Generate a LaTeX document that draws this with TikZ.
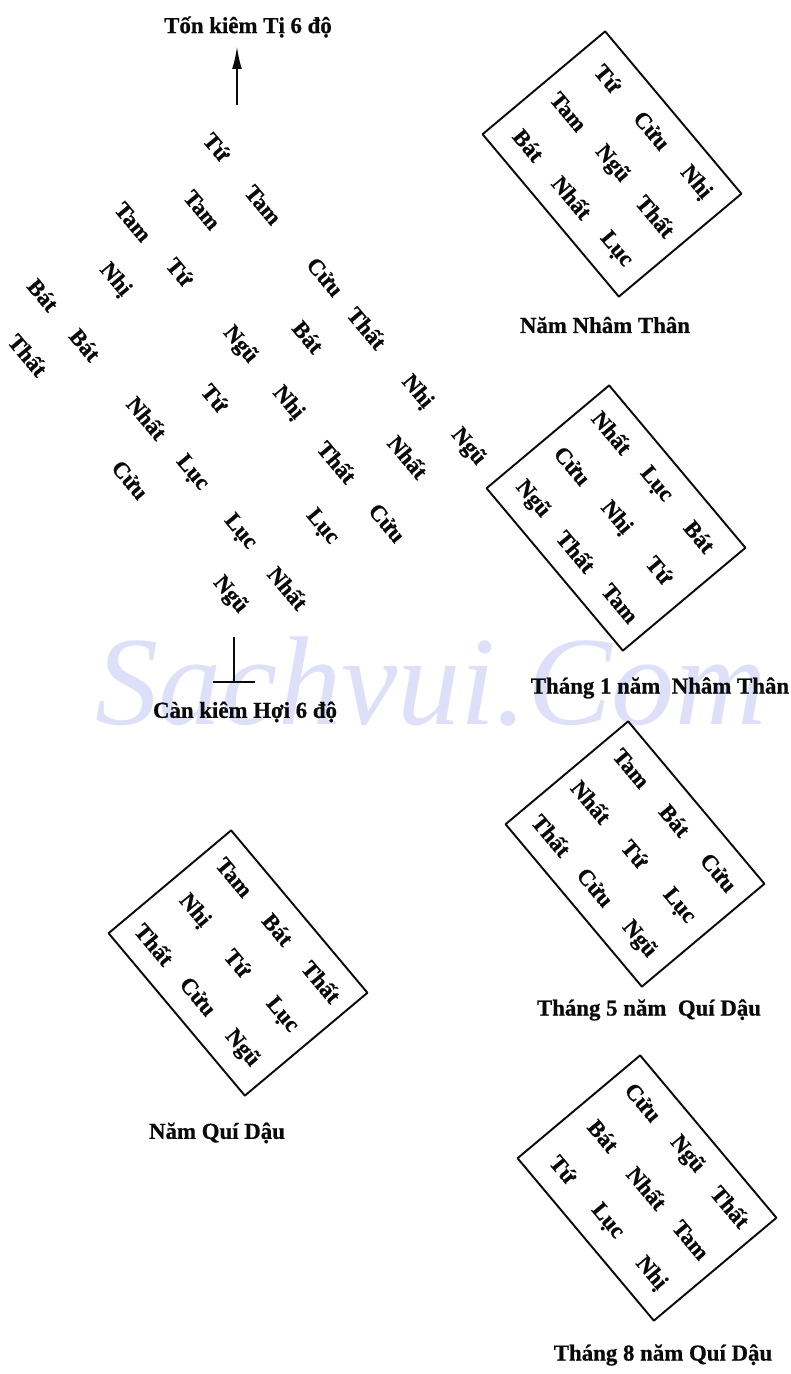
\documentclass[tikz,border=0pt]{standalone}
\usepackage{fontspec}
\setmainfont{Liberation Serif}[BoldFeatures={FakeBold=0.8}]
\usepackage{xcolor}
\usepackage{tikz}
\usetikzlibrary{arrows.meta}
\definecolor{wmark}{RGB}{222,224,250}
\definecolor{ink}{RGB}{10,10,10}

\begin{document}
\begin{tikzpicture}[
  x=0.02cm, y=-0.02cm,
  word/.style={font=\fontsize{13}{13}\selectfont\bfseries, rotate=-50,
               inner sep=0pt, text=ink},
  capt/.style={font=\fontsize{13}{15}\selectfont\bfseries, inner sep=0pt, text=ink},
  frame/.style={draw=ink, line width=1.1pt, line join=round},
  arr/.style={-{Latex[length=13pt,width=5.5pt]}, line width=1.2pt, draw=ink},
  tbar/.style={line width=0.9pt, draw=ink}
]
\useasboundingbox (0,0) rectangle (791,1374);

% watermark
\node[anchor=base west, inner sep=0pt, text=wmark,
      font=\fontsize{72}{72}\selectfont\itshape] (wm) at (95,724) {Sachvui.Com};

% big chart
\node[capt] (ton) at (248,27) {Tốn kiêm Tị 6 độ};
\coordinate (tonfoot) at (237,105);
\coordinate (tontip)  at (237,46);
\draw[arr] (tonfoot) -- (tontip);

\node[word] (s1)  at (217,147) {Tứ};
\node[word] (s2)  at (133,222) {Tam};
\node[word] (s3)  at (202,210) {Tam};
\node[word] (s4)  at (263,205) {Tam};
\node[word] (s5)  at (115,280) {Nhị};
\node[word] (s6)  at (180,272) {Tứ};
\node[word] (s7)  at (325,277) {Cửu};
\node[word] (s8)  at ( 43,295) {Bát};
\node[word] (s9)  at ( 28,355) {Thất};
\node[word] (s10) at ( 85,345) {Bát};
\node[word] (s11) at (240,345) {Ngũ};
\node[word] (s12) at (308,337) {Bát};
\node[word] (s13) at (367,328) {Thất};
\node[word] (s14) at (215,398) {Tứ};
\node[word] (s15) at (288,403) {Nhị};
\node[word] (s16) at (417,392) {Nhị};
\node[word] (s17) at (147,418) {Nhất};
\node[word] (s18) at (468,447) {Ngũ};
\node[word] (s19) at (337,462) {Thất};
\node[word] (s20) at (408,457) {Nhất};
\node[word] (s21) at (130,480) {Cửu};
\node[word] (s22) at (192,473) {Lục};
\node[word] (s23) at (387,523) {Cửu};
\node[word] (s24) at (240,532) {Lục};
\node[word] (s25) at (322,527) {Lục};
\node[word] (s26) at (288,588) {Nhất};
\node[word] (s27) at (230,595) {Ngũ};

\coordinate (cantop)   at (234,637);
\coordinate (canfoot)  at (234,682);
\coordinate (canleft)  at (213,682);
\coordinate (canright) at (255,682);
\draw[tbar] (cantop) -- (canfoot);
\draw[tbar] (canleft) -- (canright);
\node[capt] (can) at (245,712) {Càn kiêm Hợi 6 độ};

% Nam Nham Than
\begin{scope}[shift={(612,164)}, rotate=-50]
  \draw[frame] (-106,-80) rectangle (106,80);
  \node[word] (nnt1) at (-68,-52) {Tứ};   \node[word] (nnt2) at (0,-52) {Cửu};  \node[word] (nnt3) at (68,-52) {Nhị};
  \node[word] (nnt4) at (-68,0)   {Tam};  \node[word] (nnt5) at (0,0)   {Ngũ};  \node[word] (nnt6) at (68,0)   {Thất};
  \node[word] (nnt7) at (-68,52)  {Bát};  \node[word] (nnt8) at (0,52)  {Nhất}; \node[word] (nnt9) at (68,52)  {Lục};
\end{scope}
\node[capt] (nntcap) at (605,325) {Năm Nhâm Thân};

% Thang 1 nam Nham Than
\begin{scope}[shift={(616,518)}, rotate=-50]
  \draw[frame] (-106,-80) rectangle (106,80);
  \node[word] (t1a) at (-68,-52) {Nhất}; \node[word] (t1b) at (0,-52) {Lục};  \node[word] (t1c) at (68,-52) {Bát};
  \node[word] (t1d) at (-68,0)   {Cửu};  \node[word] (t1e) at (0,0)   {Nhị};  \node[word] (t1f) at (68,0)   {Tứ};
  \node[word] (t1g) at (-68,52)  {Ngũ};  \node[word] (t1h) at (0,52)  {Thất}; \node[word] (t1i) at (68,52)  {Tam};
\end{scope}
\node[capt] (t1cap) at (660,688) {Tháng 1 năm\hspace{0.5em}Nhâm Thân};

% Thang 5 nam Qui Dau
\begin{scope}[shift={(635,854)}, rotate=-50]
  \draw[frame] (-106,-80) rectangle (106,80);
  \node[word] (t5a) at (-68,-52) {Tam};  \node[word] (t5b) at (0,-52) {Bát};  \node[word] (t5c) at (68,-52) {Cửu};
  \node[word] (t5d) at (-68,0)   {Nhất}; \node[word] (t5e) at (0,0)   {Tứ};   \node[word] (t5f) at (68,0)   {Lục};
  \node[word] (t5g) at (-68,52)  {Thất}; \node[word] (t5h) at (0,52)  {Cửu};  \node[word] (t5i) at (68,52)  {Ngũ};
\end{scope}
\node[capt] (t5cap) at (649,1010) {Tháng 5 năm\hspace{0.5em}Quí Dậu};

% Nam Qui Dau
\begin{scope}[shift={(238,963)}, rotate=-50]
  \draw[frame] (-106,-80) rectangle (106,80);
  \node[word] (nqd1) at (-68,-52) {Tam};  \node[word] (nqd2) at (0,-52) {Bát};  \node[word] (nqd3) at (68,-52) {Thất};
  \node[word] (nqd4) at (-68,0)   {Nhị};  \node[word] (nqd5) at (0,0)   {Tứ};   \node[word] (nqd6) at (68,0)   {Lục};
  \node[word] (nqd7) at (-68,52)  {Thất}; \node[word] (nqd8) at (0,52)  {Cửu};  \node[word] (nqd9) at (68,52)  {Ngũ};
\end{scope}
\node[capt] (nqdcap) at (217,1133) {Năm Quí Dậu};

% Thang 8 nam Qui Dau
\begin{scope}[shift={(647,1188)}, rotate=-50]
  \draw[frame] (-106,-80) rectangle (106,80);
  \node[word] (t8a) at (-68,-52) {Cửu};  \node[word] (t8b) at (0,-52) {Ngũ};  \node[word] (t8c) at (68,-52) {Thất};
  \node[word] (t8d) at (-68,0)   {Bát};  \node[word] (t8e) at (0,0)   {Nhất}; \node[word] (t8f) at (68,0)   {Tam};
  \node[word] (t8g) at (-68,52)  {Tứ};   \node[word] (t8h) at (0,52)  {Lục};  \node[word] (t8i) at (68,52)  {Nhị};
\end{scope}
\node[capt] (t8cap) at (663,1355) {Tháng 8 năm Quí Dậu};

\end{tikzpicture}
\end{document}
